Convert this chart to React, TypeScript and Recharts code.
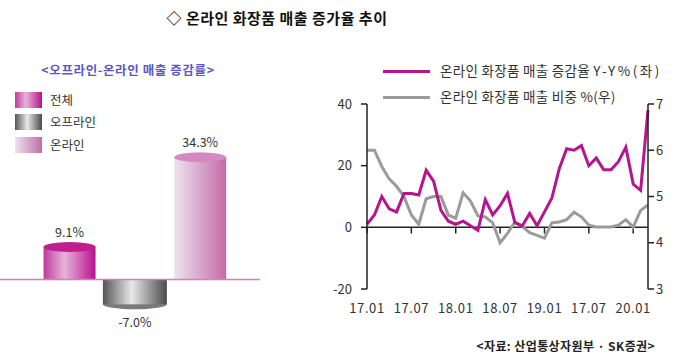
import React from 'react';
import { BarChart, Bar, XAxis, YAxis, LineChart, Line, ReferenceLine, LabelList } from 'recharts';

const FONT = "'Noto Sans CJK KR', 'Noto Sans', sans-serif";

// ---- left panel data ----
const barCategories = ['전체', '오프라인', '온라인'];
const barValues = [9.1, -7.0, 34.3];

// ---- right panel data ----
const months = [
  '17.01', '17.02', '17.03', '17.04', '17.05', '17.06', '17.07', '17.08', '17.09', '17.10', '17.11', '17.12',
  '18.01', '18.02', '18.03', '18.04', '18.05', '18.06', '18.07', '18.08', '18.09', '18.10', '18.11', '18.12',
  '19.01', '19.02', '19.03', '19.04', '19.05', '19.06', '19.07', '19.08', '19.09', '19.10', '19.11', '19.12',
  '20.01', '20.02', '20.03',
];
const salesGrowth = [
  1, 4, 10, 6, 5, 11, 11, 10.5, 18.5, 15, 5.5, 2,
  1, 2, 0.5, -1, 9, 4, 7, 11, 1.5, 0.5, 4.5, 0.5,
  5, 9.5, 19, 25.5, 25, 26.5, 20, 22.5, 18.7, 18.7, 21.3, 26,
  14, 12, 38,
];
const onlineShare = [
  6.0, 6.0, 5.65, 5.38, 5.22, 5.0, 4.6, 4.4, 4.95, 5.0, 5.0, 4.6,
  4.53, 5.08, 4.9, 4.58, 4.56, 4.43, 4.0, 4.2, 4.45, 4.35, 4.22, 4.16,
  4.1, 4.43, 4.45, 4.5, 4.66, 4.56, 4.38, 4.34, 4.34, 4.34, 4.38, 4.5,
  4.34, 4.7, 4.82,
];
const tickMonths = ['17.01', '17.07', '18.01', '18.07', '19.01', '19.07', '20.01'];
const tickLabels = ['17.01', '17.07', '18.01', '18.07', '19.01', '17.07', '20.01'];
const leftTicks = [-20, 0, 20, 40];
const rightTicks = [3, 4, 5, 6, 7];

const barData = barCategories.map((name, i) => ({ name, value: barValues[i] }));
const lineData = months.map((month, i) => ({ month, growth: salesGrowth[i], share: onlineShare[i] }));

// ---- styles ----
const MAGENTA = '#b5168d';
const GRAY_LINE = '#9b9b9b';
const bodyFills = ['url(#gTotal)', 'url(#gOff)', 'url(#gOn)'];
const capColors = ['#c11c90', '#7a7a7a', '#d489c0'];
const legendGradients = [
  'linear-gradient(to right, #c03a9a 0%, #e6b4d9 40%, #b8108c 100%)',
  'linear-gradient(to right, #555 0%, #e8e8e8 45%, #4a4a4a 100%)',
  'linear-gradient(to right, #ece4ee 0%, #c46aa8 100%)',
];

function Cylinder(props: any) {
  const { x, y, width, height, index } = props;
  const top = Math.min(y, y + height);
  const h = Math.abs(height);
  const cx = x + width / 2;
  const w = index === 1 ? width * 1.23 : width;
  const left = cx - w / 2;
  const ry = 5;
  const positive = barValues[index] >= 0;
  if (positive) {
    return (
      <g>
        <rect x={left} y={top} width={w} height={h} fill={bodyFills[index]} />
        <ellipse cx={cx} cy={top} rx={w / 2} ry={ry} fill={capColors[index]} />
      </g>
    );
  }
  return (
    <g>
      <ellipse cx={cx} cy={top + h} rx={w / 2} ry={ry} fill={capColors[index]} />
      <rect x={left} y={top} width={w} height={h} fill={bodyFills[index]} />
    </g>
  );
}

function BarLabel(props: any) {
  const { x, y, width, height, index } = props;
  const v = barValues[index];
  const top = Math.min(y, y + height);
  const bottom = Math.max(y, y + height);
  const cx = x + width / 2;
  const ty = v >= 0 ? top - 16 : bottom + 17;
  return (
    <text x={cx} y={ty} textAnchor="middle" dominantBaseline="central" fontSize={12.5} fill="#333" fontFamily={FONT}>
      {v.toFixed(1)}%
    </text>
  );
}

const fmtMonth = (v: string) => {
  const k = tickMonths.indexOf(v);
  return k >= 0 ? tickLabels[k] : v;
};

const axisStroke = '#222';

export default function App() {
  return (
    <div
      style={{
        position: 'fixed',
        left: 0,
        top: 0,
        width: 680,
        height: 357,
        background: '#fff',
        overflow: 'hidden',
        fontFamily: FONT,
        color: '#333',
      }}
    >
      {/* Title */}
      <div
        style={{
          position: 'absolute', left: 127, width: 300, top: 10, textAlign: 'center',
          fontSize: 15, fontWeight: 700, lineHeight: 1, color: '#111', whiteSpace: 'nowrap', letterSpacing: 0.5,
        }}
      >
        ◇ 온라인 화장품 매출 증가율 추이
      </div>

      {/* Left subtitle */}
      <div
        style={{
          position: 'absolute', left: 18, width: 220, top: 64, textAlign: 'center',
          fontSize: 12.5, fontWeight: 700, lineHeight: 1, color: '#5a56c8', letterSpacing: 0.6, whiteSpace: 'nowrap',
        }}
      >
        &lt;오프라인-온라인 매출 증감률&gt;
      </div>

      {/* Left legend */}
      {barCategories.map((c, i) => (
        <React.Fragment key={c}>
          <div
            style={{
              position: 'absolute', left: 15, top: [92, 114, 137][i], width: 27, height: 16,
              background: legendGradients[i],
            }}
          />
          <div
            style={{
              position: 'absolute', left: 50, top: [94, 116, 139][i], fontSize: 12.5, lineHeight: 1,
              color: '#333', whiteSpace: 'nowrap',
            }}
          >
            {c}
          </div>
        </React.Fragment>
      ))}

      {/* Left bar chart */}
      <div style={{ position: 'absolute', left: 0, top: 117 }}>
        <BarChart width={260} height={218} data={barData} margin={{ top: 20, right: 0, bottom: 20, left: 0 }}>
          <defs>
            <linearGradient id="gTotal" x1="0" y1="0" x2="1" y2="0">
              <stop offset="0%" stopColor="#c03a9a" />
              <stop offset="40%" stopColor="#e6b4d9" />
              <stop offset="100%" stopColor="#b8108c" />
            </linearGradient>
            <linearGradient id="gOff" x1="0" y1="0" x2="1" y2="0">
              <stop offset="0%" stopColor="#555555" />
              <stop offset="45%" stopColor="#e8e8e8" />
              <stop offset="100%" stopColor="#4a4a4a" />
            </linearGradient>
            <linearGradient id="gOn" x1="0" y1="0" x2="1" y2="0">
              <stop offset="0%" stopColor="#ece4ee" />
              <stop offset="100%" stopColor="#c46aa8" />
            </linearGradient>
          </defs>
          <XAxis dataKey="name" hide padding={{ left: 37, right: 27 }} />
          <YAxis hide domain={[-10, 40]} />
          <ReferenceLine y={0} stroke="#d77fbd" strokeWidth={1.5} />
          <Bar dataKey="value" shape={<Cylinder />} isAnimationActive={false}>
            <LabelList dataKey="value" content={<BarLabel />} />
          </Bar>
        </BarChart>
      </div>

      {/* Right legend */}
      <div style={{ position: 'absolute', left: 383, top: 70, width: 47, height: 3, background: MAGENTA }} />
      <div
        style={{
          position: 'absolute', left: 440, top: 64, fontSize: 13.5, lineHeight: 1, color: '#333', whiteSpace: 'nowrap',
          letterSpacing: 0.3,
        }}
      >
        온라인 화장품 매출 증감율 <span style={{ letterSpacing: 2.5 }}>Y-Y%(좌)</span>
      </div>
      <div style={{ position: 'absolute', left: 383, top: 96, width: 47, height: 3, background: GRAY_LINE }} />
      <div
        style={{
          position: 'absolute', left: 440, top: 90, fontSize: 13.5, lineHeight: 1, color: '#333', whiteSpace: 'nowrap',
          letterSpacing: 0.3,
        }}
      >
        온라인 화장품 매출 비중 %(우)
      </div>

      {/* Right line chart */}
      <div style={{ position: 'absolute', left: 300, top: 90 }}>
        <LineChart width={380} height={240} data={lineData} margin={{ top: 14, right: 0, bottom: 0, left: 0 }}>
          <XAxis
            dataKey="month"
            interval={5}
            tickFormatter={fmtMonth}
            axisLine={false}
            tickLine={false}
            tickSize={0}
            tickMargin={15}
            height={41}
            tick={{ fill: '#333', fontSize: 13, fontFamily: FONT, letterSpacing: 0.6 }}
          />
          <YAxis
            yAxisId="left"
            domain={[-20, 40]}
            ticks={leftTicks}
            width={67}
            axisLine={{ stroke: axisStroke, strokeWidth: 1.5 }}
            tickLine={{ stroke: axisStroke, strokeWidth: 1.5 }}
            tickSize={6}
            tickMargin={9}
            tick={{ fill: '#333', fontSize: 13, fontFamily: FONT }}
          />
          <YAxis
            yAxisId="right"
            orientation="right"
            domain={[3, 7]}
            ticks={rightTicks}
            width={32}
            axisLine={{ stroke: axisStroke, strokeWidth: 1.5 }}
            tickLine={{ stroke: axisStroke, strokeWidth: 1.5 }}
            tickSize={6}
            tickMargin={2}
            tick={{ fill: '#333', fontSize: 13, fontFamily: FONT }}
          />
          <ReferenceLine yAxisId="left" y={0} stroke={axisStroke} strokeWidth={1.5} />
          {tickMonths.map((m) => (
            <ReferenceLine
              key={m}
              yAxisId="left"
              segment={[{ x: m, y: 0 }, { x: m, y: -2 }]}
              stroke={axisStroke}
              strokeWidth={1.5}
            />
          ))}
          <Line
            yAxisId="right"
            type="linear"
            dataKey="share"
            stroke={GRAY_LINE}
            strokeWidth={3}
            dot={false}
            isAnimationActive={false}
          />
          <Line
            yAxisId="left"
            type="linear"
            dataKey="growth"
            stroke={MAGENTA}
            strokeWidth={3}
            dot={false}
            isAnimationActive={false}
          />
        </LineChart>
      </div>

      {/* Source */}
      <div
        style={{
          position: 'absolute', right: 25, top: 340, fontSize: 12, fontWeight: 700, lineHeight: 1,
          color: '#222', whiteSpace: 'nowrap', textAlign: 'right', letterSpacing: 0.4,
        }}
      >
        &lt;자료: 산업통상자원부 · SK증권&gt;
      </div>
    </div>
  );
}
